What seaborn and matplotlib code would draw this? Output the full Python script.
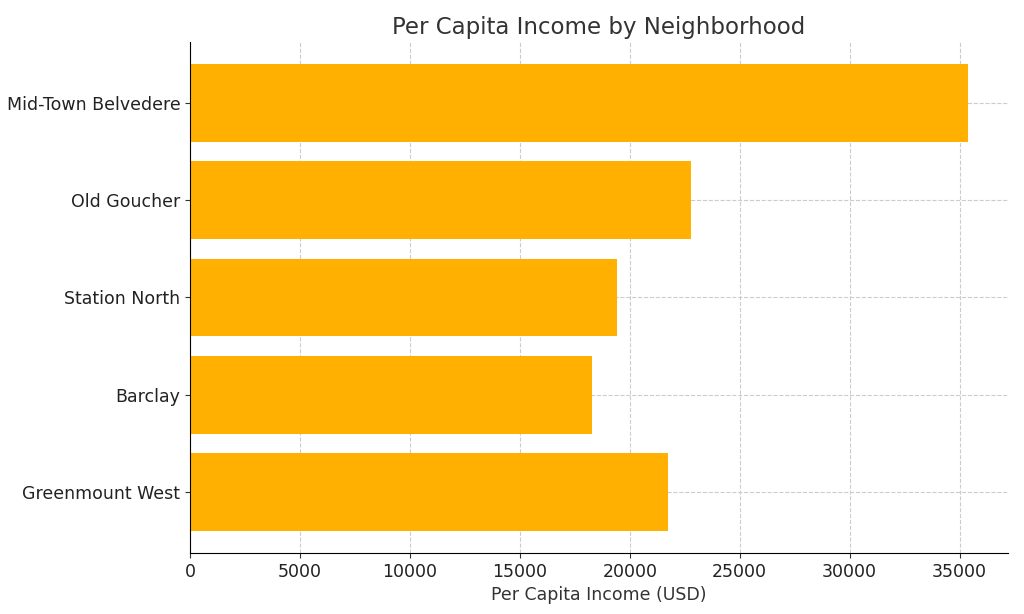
import matplotlib
matplotlib.use("Agg")
import matplotlib.pyplot as plt
import seaborn as sns
import pandas as pd

neighborhoods = ["Mid-Town Belvedere", "Old Goucher", "Station North", "Barclay", "Greenmount West"]
income = [35400, 22800, 19400, 18300, 21750]

df = pd.DataFrame({"Neighborhood": neighborhoods, "Income": income})

fig = plt.figure(figsize=(10.24, 6.14), dpi=100)
ax = fig.add_axes([190/1024, 1-553/614, (1008-190)/1024, (553-42)/614])
sns.barplot(data=df, x="Income", y="Neighborhood", color="#FFB000", saturation=1, width=0.8, ax=ax)
ax.set_axisbelow(True)
ax.grid(True, linestyle="--", color="#cccccc", linewidth=0.8)
for s in ["top", "right"]:
    ax.spines[s].set_visible(False)
ax.set_xlim(0, 37200)
ax.set_ylim(4.63, -0.63)
ax.set_xticks(range(0, 35001, 5000))
ax.tick_params(labelsize=12.5, colors="#333333")
for lab in ax.get_xticklabels() + ax.get_yticklabels():
    lab.set_color("#222222")
ax.set_xlabel("Per Capita Income (USD)", fontsize=12.5, color="#333333")
ax.set_ylabel("")
ax.set_title("Per Capita Income by Neighborhood", fontsize=16.5, color="#333333", pad=6)
fig.savefig("out.png", dpi=100)
